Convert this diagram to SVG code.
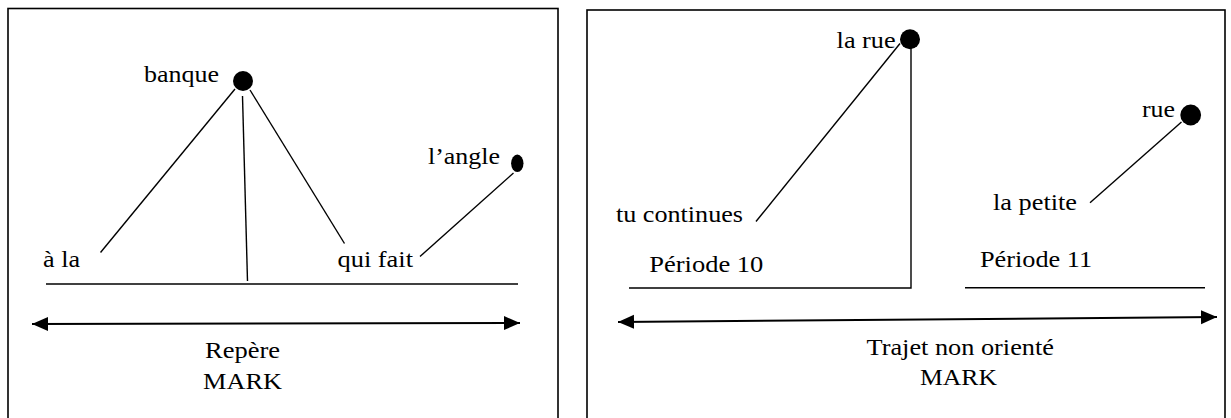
<svg xmlns="http://www.w3.org/2000/svg" width="1231" height="418" viewBox="0 0 1231 418">
<style>
  text { font-family: "Liberation Serif", "Times New Roman", serif; font-size: 24px; fill: #000; }
  .frame { fill: none; stroke: #000; stroke-width: 1.6; }
  .ln { stroke: #000; stroke-width: 1.4; fill: none; }
  .axis { stroke: #000; stroke-width: 2; fill: none; marker-start: url(#ah); marker-end: url(#ah); }
  .dot { fill: #000; }
</style>
<defs>
  <marker id="ah" markerUnits="userSpaceOnUse" markerWidth="17" markerHeight="15" refX="16" refY="7" orient="auto-start-reverse">
    <path d="M0,0 L16,7 L0,14 Z" fill="#000"/>
  </marker>
</defs>
<rect width="1231" height="418" fill="#fff"/>

<g id="panel-left">
  <rect class="frame" x="8" y="8.5" width="550" height="420"/>
</g>
<g id="panel-right">
  <rect class="frame" x="587" y="10" width="638" height="420"/>
</g>

<g id="connectors">
  <line class="ln" x1="235" y1="89" x2="100.5" y2="252.5"/>
  <line class="ln" x1="242.5" y1="96" x2="247.5" y2="281"/>
  <line class="ln" x1="250" y1="90" x2="344.5" y2="243.5"/>
  <line class="ln" x1="513.5" y1="173" x2="420" y2="256.5"/>
  <line class="ln" x1="46" y1="284" x2="518" y2="284"/>
  <line class="axis" x1="32" y1="324" x2="520" y2="323"/>
  <line class="ln" x1="900" y1="43.5" x2="756" y2="221.5"/>
  <polyline class="ln" points="911,45 911,288 629,288"/>
  <line class="ln" x1="965" y1="287.7" x2="1205" y2="287.7"/>
  <line class="ln" x1="1181.5" y1="122" x2="1090" y2="202.7"/>
  <line class="axis" x1="618" y1="322" x2="1217" y2="317"/>
</g>

<g id="node-banque">
  <circle class="dot" cx="243" cy="81" r="10"/>
  <text x="144" y="82" textLength="75" lengthAdjust="spacingAndGlyphs">banque</text>
</g>
<g id="node-a-la">
  <text x="43" y="267" textLength="37" lengthAdjust="spacingAndGlyphs">à la</text>
</g>
<g id="node-qui-fait">
  <text x="337.5" y="267" textLength="75.5" lengthAdjust="spacingAndGlyphs">qui fait</text>
</g>
<g id="node-angle">
  <ellipse class="dot" cx="517.3" cy="163.3" rx="6.2" ry="8.7"/>
  <text x="428" y="164" textLength="72" lengthAdjust="spacingAndGlyphs">l’angle</text>
</g>
<g id="label-repere">
  <text x="205" y="358" textLength="75" lengthAdjust="spacingAndGlyphs">Repère</text>
  <text x="203" y="389" textLength="79" lengthAdjust="spacingAndGlyphs">MARK</text>
</g>

<g id="node-la-rue">
  <circle class="dot" cx="910" cy="39.3" r="10"/>
  <text x="836.6" y="48.3" textLength="59" lengthAdjust="spacingAndGlyphs">la rue</text>
</g>
<g id="node-tu-continues">
  <text x="616" y="221.7" textLength="127" lengthAdjust="spacingAndGlyphs">tu continues</text>
</g>
<g id="label-periode-10">
  <text x="649.3" y="271.7" textLength="114" lengthAdjust="spacingAndGlyphs">Période 10</text>
</g>
<g id="node-rue">
  <circle class="dot" cx="1190.7" cy="115" r="10.4"/>
  <text x="1142" y="117.3" textLength="33" lengthAdjust="spacingAndGlyphs">rue</text>
</g>
<g id="node-la-petite">
  <text x="993" y="210" textLength="84" lengthAdjust="spacingAndGlyphs">la petite</text>
</g>
<g id="label-periode-11">
  <text x="980" y="266.7" textLength="112" lengthAdjust="spacingAndGlyphs">Période 11</text>
</g>
<g id="label-trajet">
  <text x="866.5" y="354.5" textLength="187.5" lengthAdjust="spacingAndGlyphs">Trajet non orienté</text>
  <text x="920" y="385" textLength="77" lengthAdjust="spacingAndGlyphs">MARK</text>
</g>
</svg>
